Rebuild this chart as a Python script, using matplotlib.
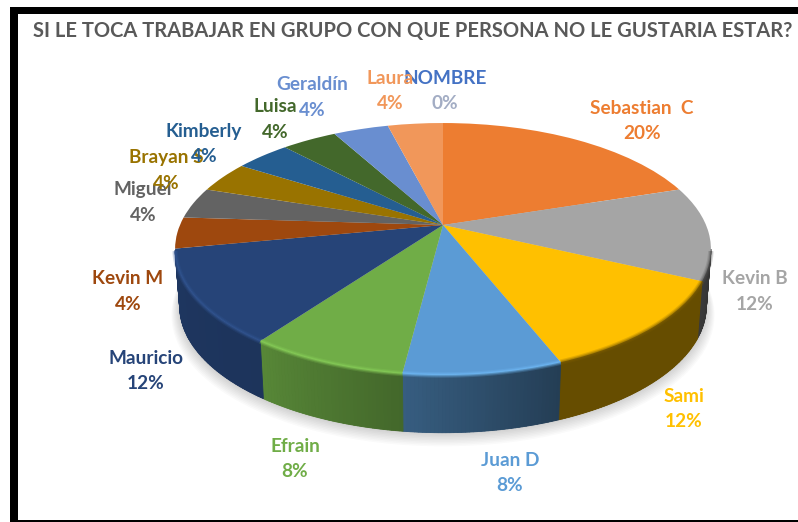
#!/usr/bin/env python
# coding: utf-8

# Pie chart with a 3D look, the wedges go through a small perspective transform

import numpy as np
import matplotlib
matplotlib.use("Agg")
import matplotlib.pyplot as plt
from matplotlib.patches import Rectangle, Circle
from matplotlib.transforms import Transform

title = "SI LE TOCA TRABAJAR EN GRUPO CON QUE PERSONA NO LE GUSTARIA ESTAR?"

names = ["NOMBRE", "Sebastian  C", "Kevin B", "Sami", "Juan D", "Efrain", "Mauricio",
         "Kevin M", "Miguel", "Brayan S", "Kimberly", "Luisa", "Geraldín", "Laura"]
values = [0, 20, 12, 12, 8, 8, 12, 4, 4, 4, 4, 4, 4, 4]
colors = ["#4472C4", "#ED7D31", "#A5A5A5", "#FFC000", "#5B9BD5", "#70AD47", "#264478",
          "#9E480E", "#636363", "#997300", "#255E91", "#43682B", "#698ED0", "#F1975A"]
# the 0% label looks washed out in the picture
pct_colors = ["#A3ADC4"] + colors[1:]

# label centres in pixels (name line)
label_x = [445, 642, 755, 684, 510, 295, 146, 128, 143, 166, 204, 275, 312, 390]
label_y = [78, 108, 279, 396, 460, 446, 358, 279, 190, 158, 131, 107, 85, 78]
line_gap = 25.5

# wall shading, how dark the side is at start and end of each slice
wall_start = [0.4, 0.4, 0.3, 0.4, 0.40, 0.60, 0.76, 0.8, 0.8, 0.8, 0.8, 0.8, 0.8, 0.8]
wall_end = [0.4, 0.4, 0.35, 0.4, 0.60, 0.78, 0.80, 0.8, 0.8, 0.8, 0.8, 0.8, 0.8, 0.8]

CX, CY, K = 443.0, 225.0, 0.1905
TOP_A, TOP_B = 263.0, 121.4
LOW_A, LOW_B, LOW_DY = 258.5, 122.0, 57.0
HORIZON = -0.19


class Persp(Transform):
    # unit disc -> pixel position on the tilted pie
    input_dims = output_dims = 2

    def __init__(self, a=TOP_A, b=TOP_B, dy=0.0):
        super().__init__()
        self.a, self.b, self.dy = a, b, dy

    def transform_non_affine(self, values):
        pts = np.asarray(values, dtype=float)
        w = 1 + K * pts[:, 1]
        return np.column_stack([CX + self.a * pts[:, 0] / w,
                                CY + self.dy - self.b * pts[:, 1] / w])

    transform = transform_non_affine


plt.rcParams['font.family'] = ['Lato', 'DejaVu Sans']
fig = plt.figure(figsize=(7.98, 5.22), dpi=100)
ax = fig.add_axes([0, 0, 1, 1])

top = Persp()
low = Persp(LOW_A, LOW_B, LOW_DY)

wedges, _ = ax.pie(values, colors=colors, startangle=90, counterclock=False, radius=1.0)
ax.set_xlim(0, 798)
ax.set_ylim(522, 0)
ax.set_aspect('auto')
ax.axis('off')

# soft shadow under the pie
for i in range(10):
    sh = Circle((0, 0), 1.0, fc='#000000', ec='none', alpha=0.02, zorder=0.5)
    sh.set_transform(Persp(LOW_A + i * 0.9, LOW_B + i * 0.5, LOW_DY + i * 0.9) + ax.transData)
    ax.add_patch(sh)

# side walls from the same values, thin strips so the shading can change along them
edges = 90 - np.cumsum([0] + values) * 3.6
for i, col in enumerate(colors):
    if values[i] == 0:
        continue
    rgb = np.array(matplotlib.colors.to_rgb(col))
    t = np.radians(np.linspace(edges[i], edges[i + 1], values[i] * 5 + 2))
    t = t[np.sin(t) < HORIZON]
    if len(t) < 2:
        continue
    circle = np.column_stack([np.cos(t), np.sin(t)])
    p_top = top.transform(circle)
    p_low = low.transform(circle)
    # base piece first so no white shows between the strips
    base = (wall_start[i] + wall_end[i]) / 2
    ax.fill(np.r_[p_top[:, 0], p_low[::-1, 0]], np.r_[p_top[:, 1], p_low[::-1, 1]],
            color=rgb * base, lw=0, zorder=1)
    for j in range(len(t) - 1):
        f = j / max(len(t) - 2, 1)
        shade = wall_start[i] + (wall_end[i] - wall_start[i]) * f
        ax.fill([p_top[j, 0], p_top[j + 1, 0], p_low[j + 1, 0], p_low[j, 0]],
                [p_top[j, 1], p_top[j + 1, 1], p_low[j + 1, 1], p_low[j, 1]],
                color=rgb * shade, lw=0.6, zorder=1.1)

# top of the pie
for w in wedges:
    w.set_transform(top + ax.transData)
    w.set_zorder(2)
    w.set_clip_on(False)

# bevel along the front rim, light on the blues and green, dark on the yellow and grey
for i, col in enumerate(colors):
    if values[i] == 0:
        continue
    t = np.radians(np.linspace(edges[i], edges[i + 1], 40))
    keep = np.sin(t) < HORIZON
    if keep.sum() < 2:
        continue
    rim = top.transform(np.column_stack([np.cos(t[keep]), np.sin(t[keep])]))
    rgb = np.array(matplotlib.colors.to_rgb(col))
    if col in ("#FFC000", "#A5A5A5"):
        edge = rgb * 0.5
    else:
        edge = np.minimum(rgb * 1.2 + 0.03, 1)
    for lw, alpha in [(4.0, 0.2), (2.4, 0.3), (1.2, 0.35)]:
        ax.plot(rim[:, 0], rim[:, 1], color=edge, lw=lw, alpha=alpha, zorder=3,
                solid_capstyle='butt')

# labels
for n, v, col, pcol, x, y in zip(names, values, colors, pct_colors, label_x, label_y):
    ax.text(x, y, n, color=col, fontsize=13.7, fontweight='bold', ha='center', va='center', zorder=6)
    ax.text(x, y + line_gap, f"{v}%", color=pcol, fontsize=13.7, fontweight='bold',
            ha='center', va='center', zorder=6)

ax.text(33, 31, title, color='#595959', fontsize=14.5, fontweight='bold', ha='left', va='center', zorder=6)

# black frame of the screenshot
for r in [(10, 7, 788, 7), (10, 7, 8, 515), (10, 520, 788, 2)]:
    ax.add_patch(Rectangle((r[0], r[1]), r[2], r[3], fc='black', ec='none', zorder=7))

fig.savefig("out.png", dpi=100)
